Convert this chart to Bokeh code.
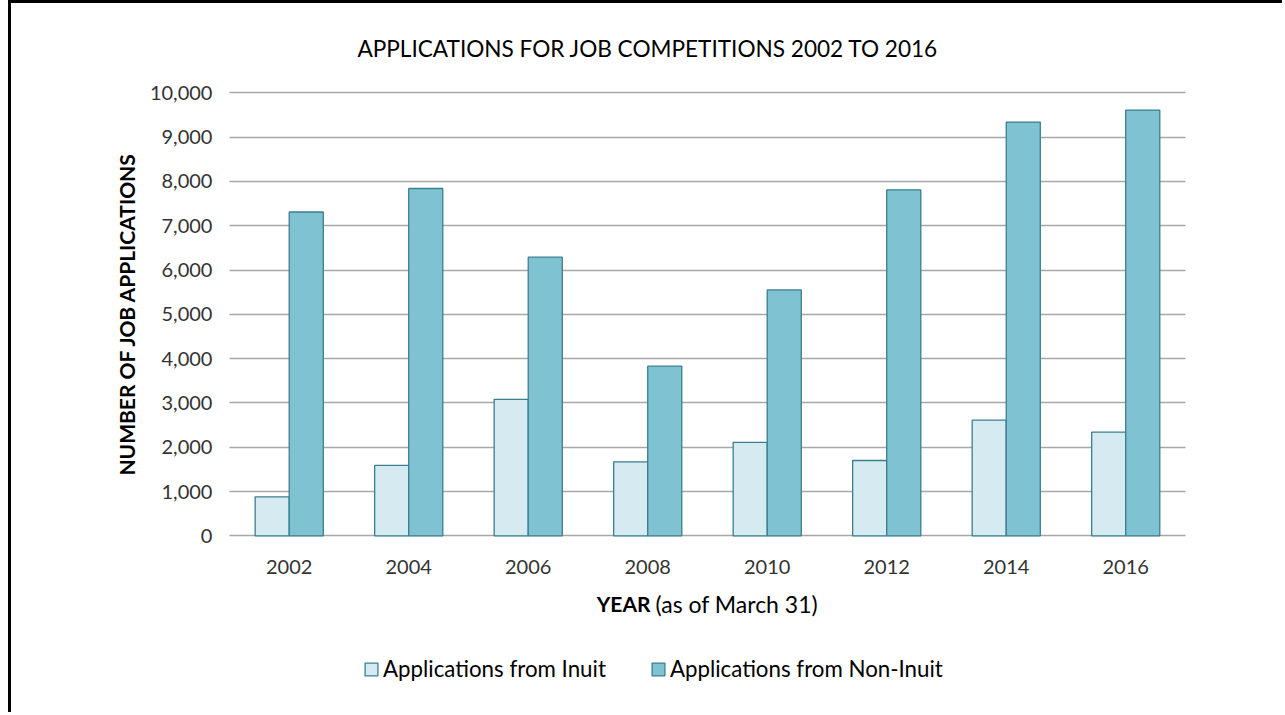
from bokeh.plotting import figure
from bokeh.models import (Legend, LegendItem, NumeralTickFormatter, FixedTicker,
                          Range1d, Label)
from bokeh.transform import dodge
from bokeh.embed import file_html
from bokeh.resources import INLINE

years = ["2002", "2004", "2006", "2008", "2010", "2012", "2014", "2016"]
inuit = [880, 1590, 3080, 1670, 2110, 1700, 2610, 2340]
non_inuit = [7310, 7840, 6290, 3830, 5550, 7810, 9340, 9610]
y_ticks = [0, 1000, 2000, 3000, 4000, 5000, 6000, 7000, 8000, 9000, 10000]

title_text = "APPLICATIONS FOR JOB COMPETITIONS 2002 TO 2016"
y_title = "NUMBER OF JOB APPLICATIONS"
x_title_bold = "YEAR"
x_title_rest = "(as of March 31)"
series_names = ["Applications from Inuit", "Applications from Non-Inuit"]

FONT = "Lato"
OFF_L, OFF_T = 11, 3
N = len(years)
pos = [i + 0.5 for i in range(N)]          # category centres on a linear scale

p = figure(x_range=Range1d(-1.824, N + 0.837), y_range=Range1d(-4056, 12016),
           width=1285 - OFF_L, height=715 - OFF_T,
           output_backend="svg", toolbar_location=None,
           min_border_left=0, min_border_right=0, min_border_top=0, min_border_bottom=0)
p.styles = {"margin-left": "8px", "border-left": "3px solid black",
            "border-top": "3px solid black"}
p.outline_line_color = None
p.background_fill_color = "white"
p.border_fill_color = "white"
p.grid.visible = False

data = dict(pos=pos, years=years, inuit=inuit, non_inuit=non_inuit)
r1 = p.vbar(x=dodge("pos", -0.1425), top="inuit", width=0.285, source=data,
            fill_color="#D5EBF1", line_color="#3B7F8F", line_width=1.3, level="overlay")
r2 = p.vbar(x=dodge("pos", 0.1425), top="non_inuit", width=0.285, source=data,
            fill_color="#7FC3D3", line_color="#3B7F8F", line_width=1.3, level="overlay")

# y axis: placed at the left edge of the category area; long inward ticks act as gridlines
ya = p.yaxis[0]
ya.fixed_location = 0
ya.bounds = (0, 10000)
ya.ticker = FixedTicker(ticks=y_ticks)
ya.formatter = NumeralTickFormatter(format="0,0")
ya.axis_line_color = None
ya.major_tick_in = 956
ya.major_tick_out = 0
ya.major_tick_line_color = "#A8A8A8"
ya.major_tick_line_width = 1.5
ya.minor_tick_line_color = None
ya.major_label_standoff = 17
ya.major_label_text_font = FONT
ya.major_label_text_font_size = "20px"
ya.major_label_text_color = "#333333"
ya.axis_label = y_title
ya.axis_label_text_font = FONT
ya.axis_label_text_font_style = "bold"
ya.axis_label_text_font_size = "21px"
ya.axis_label_text_color = "black"
ya.axis_label_standoff = 8

xa = p.xaxis[0]
xa.fixed_location = 0
xa.bounds = (0, N)
xa.ticker = FixedTicker(ticks=pos)
xa.major_label_overrides = {c: y for c, y in zip(pos, years)}
xa.axis_line_color = None
xa.major_tick_line_color = None
xa.minor_tick_line_color = None
xa.major_label_standoff = 18
xa.major_label_text_font = FONT
xa.major_label_text_font_size = "20px"
xa.major_label_text_color = "#333333"

p.add_layout(Label(x=3.502, y=11000, text=title_text, text_align="center",
                   text_baseline="middle", text_font=FONT, text_font_size="22.6px",
                   text_color="black"))
p.add_layout(Label(x=3.523, y=-1528, text=x_title_bold, text_align="right",
                   text_baseline="middle", text_font=FONT, text_font_style="bold",
                   text_font_size="21px", text_color="black"))
p.add_layout(Label(x=3.565, y=-1528, text=x_title_rest, text_align="left",
                   text_baseline="middle", text_font=FONT, text_font_size="23px",
                   text_color="black"))

legend = Legend(items=[LegendItem(label=series_names[0], renderers=[r1]),
                       LegendItem(label=series_names[1], renderers=[r2])],
                orientation="horizontal", location=(352, 33),
                glyph_width=16, glyph_height=16, label_standoff=4, spacing=44,
                padding=0, margin=0, border_line_color=None, background_fill_alpha=0,
                label_text_font=FONT, label_text_font_size="22.3px", label_text_color="black")
p.add_layout(legend)

open("out.html", "w").write(file_html(p, INLINE))
